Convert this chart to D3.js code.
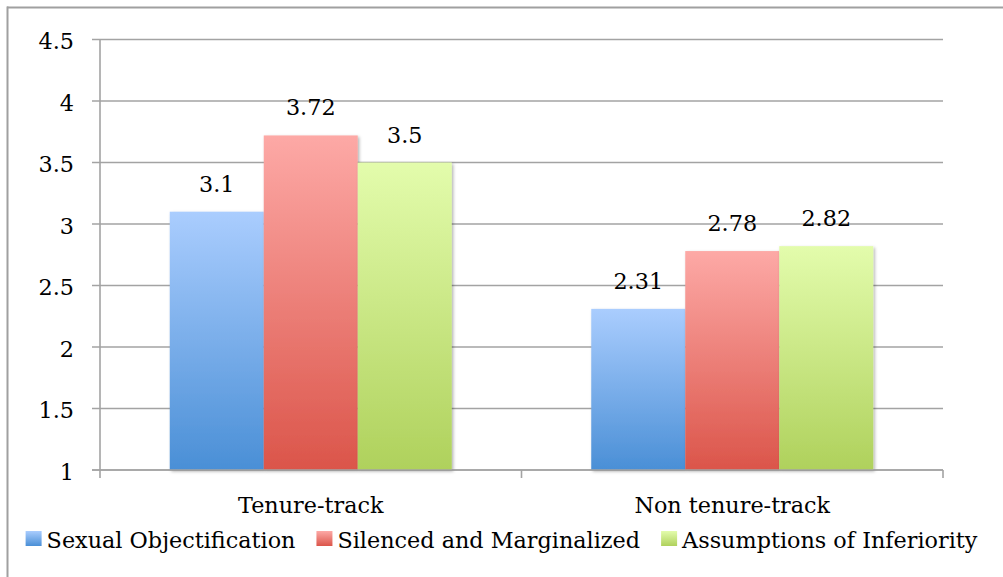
<!DOCTYPE html>
<html>
<head>
<meta charset="utf-8">
<script src="https://cdn.jsdelivr.net/npm/d3@7"></script>
<style>
html,body{margin:0;padding:0;background:#fff;}
svg{display:block;}
</style>
</head>
<body>
<svg id="chart" width="1003" height="577"></svg>
<script>
const categories = ["Tenure-track", "Non tenure-track"];
const seriesNames = ["Sexual Objectification", "Silenced and Marginalized", "Assumptions of Inferiority"];
const sexualObjectification = [3.1, 2.31];
const silencedMarginalized = [3.72, 2.78];
const assumptionsInferiority = [3.5, 2.82];
const yTicks = [1, 1.5, 2, 2.5, 3, 3.5, 4, 4.5];
const seriesValues = [sexualObjectification, silencedMarginalized, assumptionsInferiority];

const W = 1003, H = 577;
const svg = d3.select("#chart");
const FONT = "DejaVu Serif";
const FS = 23, K = 0.97;  // font size and horizontal factor to mimic Cambria

function stretch(sel){
  sel.each(function(){
    const w = this.getComputedTextLength();
    d3.select(this).attr("textLength", w*K).attr("lengthAdjust","spacingAndGlyphs");
  });
}
function txt(g){
  return g.append("text").attr("font-family", FONT).attr("font-size", FS).attr("fill", "#000");
}

// gradients
const colors = [
  {top:"#aacdfe", bot:"#4a8fd6"},
  {top:"#fda9a6", bot:"#db554a"},
  {top:"#e3fcac", bot:"#afd15c"}
];
const defs = svg.append("defs");
colors.forEach((c,i)=>{
  const g = defs.append("linearGradient").attr("id","g"+i)
    .attr("x1",0).attr("y1",0).attr("x2",0).attr("y2",1);
  g.append("stop").attr("offset","0%").attr("stop-color",c.top);
  g.append("stop").attr("offset","100%").attr("stop-color",c.bot);
});
const flt = defs.append("filter").attr("id","shadow").attr("x","-10%").attr("y","-10%").attr("width","130%").attr("height","130%");
flt.append("feDropShadow").attr("dx",1.5).attr("dy",1.5).attr("stdDeviation",1.5).attr("flood-color","#000").attr("flood-opacity",0.3);

// outer frame
svg.append("line").attr("x1",7).attr("x2",W).attr("y1",7.5).attr("y2",7.5).attr("stroke","#a0a0a0").attr("stroke-width",2);
svg.append("line").attr("x1",7.5).attr("x2",7.5).attr("y1",6.5).attr("y2",H).attr("stroke","#a0a0a0").attr("stroke-width",2);

const pLeft = 100, pRight = 943, pTop = 39.5, pBottom = 470;
const x0 = d3.scaleBand().domain(categories).range([pLeft, pRight]).paddingInner(0).paddingOuter(0);
const x1 = d3.scaleBand().domain(d3.range(seriesNames.length)).range([0, x0.bandwidth()]).paddingInner(0).paddingOuter(0.742);
const y = d3.scaleLinear().domain([1, 4.5]).range([pBottom, pTop]);

// gridlines
svg.append("g").selectAll("line").data(yTicks).join("line")
  .attr("x1", pLeft-8).attr("x2", pRight)
  .attr("y1", d=>y(d)).attr("y2", d=>y(d))
  .attr("stroke","#a3a3a3").attr("stroke-width",1.6);

// y axis line
svg.append("line").attr("x1",pLeft).attr("x2",pLeft).attr("y1",pTop).attr("y2",pBottom+1)
  .attr("stroke","#a3a3a3").attr("stroke-width",1.6);

// y tick labels
const yl = svg.append("g");
yTicks.forEach(t=>{
  txt(yl).attr("x", 74).attr("y", y(t)+9.5).attr("text-anchor","end").text(String(t)).call(stretch);
});

// category ticks
const catTicks = [pLeft, ...categories.slice(1).map(c=>x0(c)), pRight];
svg.append("g").selectAll("line").data(catTicks).join("line")
  .attr("x1",d=>d).attr("x2",d=>d).attr("y1",pBottom).attr("y2",pBottom+8)
  .attr("stroke","#a3a3a3").attr("stroke-width",1.6);

// bars
const groups = svg.append("g").selectAll("g").data(categories).join("g")
  .attr("transform", c=>`translate(${x0(c)},0)`);
groups.each(function(c, ci){
  const g = d3.select(this);
  seriesValues.forEach((vals, si)=>{
    const v = vals[ci];
    g.append("rect")
      .attr("x", x1(si)).attr("width", x1.bandwidth())
      .attr("y", y(v)).attr("height", y(1)-y(v))
      .attr("fill", `url(#g${si})`).attr("filter","url(#shadow)");
  });
  seriesValues.forEach((vals, si)=>{
    const v = vals[ci];
    txt(g).attr("x", x1(si)+x1.bandwidth()/2).attr("y", y(v)-20)
      .attr("text-anchor","middle").text(String(v)).call(stretch);
  });
});

// redraw axis baseline over bars
svg.append("line").attr("x1",pLeft-8).attr("x2",pRight).attr("y1",y(1)).attr("y2",y(1))
  .attr("stroke","#a3a3a3").attr("stroke-width",1.6);

// category labels
const cl = svg.append("g");
categories.forEach(c=>{
  txt(cl).attr("x", x0(c)+x0.bandwidth()/2).attr("y", 513).attr("text-anchor","middle").text(c).call(stretch);
});

// legend
const leg = svg.append("g");
const items = leg.selectAll("g").data(seriesNames).join("g");
items.append("rect").attr("x",0).attr("y",-17).attr("width",16).attr("height",15)
  .attr("fill",(d,i)=>`url(#g${i})`);
items.each(function(d){ txt(d3.select(this)).attr("x",21).attr("y",0).text(d).call(stretch); });
let xs = 0; const pos = [];
items.each(function(d,i){
  const tw = +d3.select(this).select("text").attr("textLength");
  pos.push(xs);
  xs += 21 + tw + 21;
});
const totalW = xs - 21;
const lx = W/2 - totalW/2;
items.attr("transform",(d,i)=>`translate(${lx+pos[i]},548)`);
</script>
</body>
</html>
